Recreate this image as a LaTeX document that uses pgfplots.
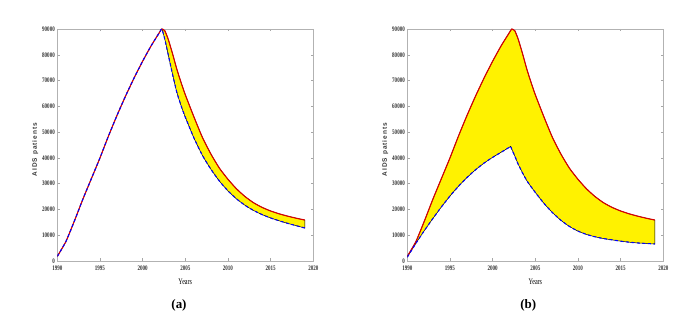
\documentclass[border=0pt]{standalone}
\usepackage{fontspec}
\setmainfont{Liberation Serif}
\newfontfamily\tickfont[FakeStretch=0.72]{Liberation Serif}
\newfontfamily\ylabfont[LetterSpace=16]{Liberation Sans}
\usepackage{pgfplots}
\pgfplotsset{compat=1.18}
\usepackage{pgfplotstable}
\usepgfplotslibrary{fillbetween}

% year, upper bound, lower bound
\pgfplotstableread{
year up lo
1990 1800 1800
1991 7500 7500
1992 15500 15500
1993 24000 24000
1994 32000 32000
1995 40000 40000
1996 48500 48500
1997 56500 56500
1998 64000 64000
1999 71000 71000
2000 77500 77500
2001 83500 83500
2002 88800 88800
2002.25 90000 90000
2002.6 89300 86000
2003 86000 80000
2003.5 80500 72500
2004 74500 65500
2004.5 69300 60300
2005 64500 55800
2006 56000 47800
2007 48000 41000
2008 41500 35600
2009 36000 31000
2010 31700 27200
2011 28000 24100
2012 25000 21600
2013 22600 19600
2014 20800 18000
2015 19400 16700
2016 18300 15600
2017 17400 14600
2018 16600 13700
2019 15900 12800
}\dataA

\pgfplotstableread{
year up lo
1990 1800 1500
1991 7500 6800
1992 15500 11800
1993 24000 16500
1994 32000 21000
1995 40000 25200
1996 48500 29000
1997 56500 32400
1998 64000 35400
1999 71000 38000
2000 77500 40200
2001 83500 42200
2002 88800 44200
2002.1 89400 44500
2002.25 90000 43300
2002.6 89300 40700
2003 86000 37500
2003.5 80500 34200
2004 74500 31200
2004.5 69300 28800
2005 64500 26600
2006 56000 22400
2007 48000 18800
2008 41500 15800
2009 36000 13400
2010 31700 11600
2011 28000 10300
2012 25000 9400
2013 22600 8700
2014 20800 8200
2015 19400 7700
2016 18300 7300
2017 17400 7000
2018 16600 6800
2019 15900 6600
}\dataB

\pgfplotsset{
  panel/.style={
    scale only axis,
    width=256bp, height=232bp,
    anchor=south west,
    xmin=1990, xmax=2020, ymin=0, ymax=90000,
    xtick={1990,1995,...,2020},
    ytick={0,10000,...,90000},
    scaled y ticks=false,
    /pgf/number format/1000 sep={},
    /pgf/number format/assume math mode=true,
    tick align=inside,
    major tick length=2.5bp,
    axis line style={gray!60, line width=0.5bp},
    every tick/.style={gray!70, line width=0.4bp},
    tick label style={font=\tickfont\bfseries\fontsize{7}{8}\selectfont, text=black!80},
    yticklabel style={xshift=1bp},
    xticklabel style={yshift=-1bp},
    xlabel={Years},
    xlabel style={font=\tickfont\fontsize{8.5}{9}\selectfont, at={(axis description cs:0.5,-0.09)}, anchor=center},
    ylabel={AIDS patients},
    ylabel style={font=\ylabfont\bfseries\fontsize{6.5}{7}\selectfont, text=black!80, at={(axis description cs:-0.086,0.48)}, anchor=center},
  },
  upper/.style={red!85!black, line width=1.1bp, smooth, tension=0.35},
  lower/.style={blue, line width=1.1bp, dash pattern=on 3bp off 2.5bp, smooth, tension=0.35},
  shape/.style={draw=none, smooth, tension=0.35},
}

\begin{document}
\begin{tikzpicture}
\path (0,0) rectangle (691bp,321bp);

\begin{axis}[panel, at={(57.3bp,60bp)}]
  \addplot[name path=upA, shape] table[x=year, y=up] {\dataA};
  \addplot[name path=loA, shape] table[x=year, y=lo] {\dataA};
  \addplot[fill=yellow, draw=black, line width=0.5bp] fill between[of=upA and loA];
  \addplot[upper] table[x=year, y=up] {\dataA};
  \addplot[lower] table[x=year, y=lo] {\dataA};
\end{axis}

\begin{axis}[panel, at={(407.3bp,60bp)}]
  \addplot[name path=upB, shape] table[x=year, y=up] {\dataB};
  \addplot[name path=loB, shape] table[x=year, y=lo] {\dataB};
  \addplot[fill=yellow, draw=black, line width=0.5bp] fill between[of=upB and loB];
  \addplot[upper] table[x=year, y=up] {\dataB};
  \addplot[lower] table[x=year, y=lo] {\dataB};
\end{axis}

\node[font=\bfseries\fontsize{13}{14}\selectfont] at (179bp,15.3bp) {(a)};
\node[font=\bfseries\fontsize{13}{14}\selectfont] at (528.3bp,15.3bp) {(b)};
\end{tikzpicture}
\end{document}
